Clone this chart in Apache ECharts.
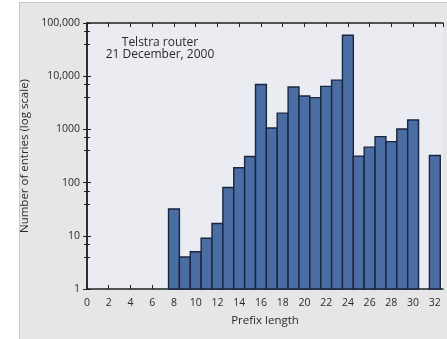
<!DOCTYPE html>
<html>
<head>
<meta charset="utf-8">
<script src="https://cdn.jsdelivr.net/npm/echarts@6/dist/echarts.min.js"></script>
<style>
html,body{margin:0;padding:0;background:#ffffff;}
#frame{position:absolute;left:19px;top:2px;width:440px;height:345px;background:#e6e6e6;border:1px solid #c9c9c9;box-sizing:border-box;}
#chart{position:absolute;left:0;top:0;width:447px;height:339px;}
</style>
</head>
<body>
<div id="frame"></div>
<div id="chart"></div>
<script>
// Data
var prefixLengths = [8, 9, 10, 11, 12, 13, 14, 15, 16, 17, 18, 19, 20, 21, 22, 23, 24, 25, 26, 27, 28, 29, 30, 32];
var entries = [32, 4, 5, 9, 17, 81, 190, 310, 7000, 1060, 2020, 6250, 4250, 3960, 6440, 8420, 59000, 315, 464, 733, 590, 1020, 1500, 323];
var yTickLabels = {1: '1', 10: '10', 100: '100', 1000: '1000', 10000: '10,000', 100000: '100,000'};
var annotationLines = ['Telstra router', '21 December, 2000'];
var xTitle = 'Prefix length';
var yTitle = 'Number of entries (log scale)';

var chart = echarts.init(document.getElementById('chart'), null, {renderer: 'canvas'});
var FONT = 'Open Sans';
var textColor = '#2a2a2a';
var axisColor = '#222222';

var seriesData = prefixLengths.map(function (p, i) { return [p, entries[i]]; });

var option = {
  animation: false,
  backgroundColor: 'transparent',
  grid: {left: 87, right: 4, top: 23, bottom: 50, show: true, backgroundColor: '#eaecf2', borderWidth: 0},
  xAxis: [{
    type: 'value', min: 0, max: 32.75, interval: 2, position: 'bottom',
    name: xTitle, nameLocation: 'middle', nameGap: 26,
    nameTextStyle: {fontFamily: FONT, fontSize: 11.5, color: textColor},
    axisLine: {show: true, lineStyle: {color: axisColor, width: 1.5}},
    axisTick: {show: true, inside: true, length: 4, lineStyle: {color: axisColor, width: 1}},
    axisLabel: {fontFamily: FONT, fontSize: 10.5, color: textColor, margin: 9, showMaxLabel: false,
      formatter: function (v) { return (v % 2 === 0) ? String(v) : ''; }},
    splitLine: {show: false}
  }, {
    type: 'value', min: 0, max: 32.75, interval: 2, position: 'top',
    axisLine: {show: true, lineStyle: {color: axisColor, width: 1.5}},
    axisTick: {show: true, inside: true, length: 4, lineStyle: {color: axisColor, width: 1}},
    axisLabel: {show: false},
    splitLine: {show: false}
  }],
  yAxis: [{
    type: 'log', logBase: 10, min: 1, max: 100000, position: 'left',
    name: yTitle, nameLocation: 'middle', nameGap: 52,
    nameTextStyle: {fontFamily: FONT, fontSize: 11.5, color: textColor},
    axisLine: {show: true, lineStyle: {color: axisColor, width: 1.5}},
    axisTick: {show: true, inside: true, length: 4, lineStyle: {color: axisColor, width: 1}},
    minorTick: {show: true, splitNumber: 3, length: 3, lineStyle: {color: axisColor, width: 1}},
    axisLabel: {fontFamily: FONT, fontSize: 10.5, color: textColor, margin: 7,
      formatter: function (v) { var k = Math.round(v); return yTickLabels[k] !== undefined ? yTickLabels[k] : ''; }},
    splitLine: {show: false}
  }, {
    type: 'log', logBase: 10, min: 1, max: 100000, position: 'right',
    axisLine: {show: true, lineStyle: {color: axisColor, width: 1.5}},
    axisTick: {show: true, inside: true, length: 4, lineStyle: {color: axisColor, width: 1}},
    minorTick: {show: true, splitNumber: 3, length: 3, lineStyle: {color: axisColor, width: 1}},
    axisLabel: {show: false},
    splitLine: {show: false}
  }],
  graphic: [{
    type: 'text', x: 160, y: 42.5,
    style: {text: annotationLines[0], font: '12px "' + FONT + '"', fill: textColor, align: 'center', verticalAlign: 'middle'}
  }, {
    type: 'text', x: 160, y: 54.5,
    style: {text: annotationLines[1], font: '12px "' + FONT + '"', fill: textColor, align: 'center', verticalAlign: 'middle'}
  }],
  series: [{
    type: 'custom',
    xAxisIndex: 0, yAxisIndex: 0,
    data: seriesData,
    renderItem: function (params, api) {
      var x = api.value(0), y = api.value(1);
      var p1 = api.coord([x - 0.5, y]);
      var p2 = api.coord([x + 0.5, 1]);
      return {
        type: 'rect',
        shape: {x: p1[0], y: p1[1], width: p2[0] - p1[0], height: p2[1] - p1[1]},
        style: {fill: '#4a6da4', stroke: '#1a2540', lineWidth: 1.4}
      };
    }
  }]
};
chart.setOption(option);
</script>
</body>
</html>
